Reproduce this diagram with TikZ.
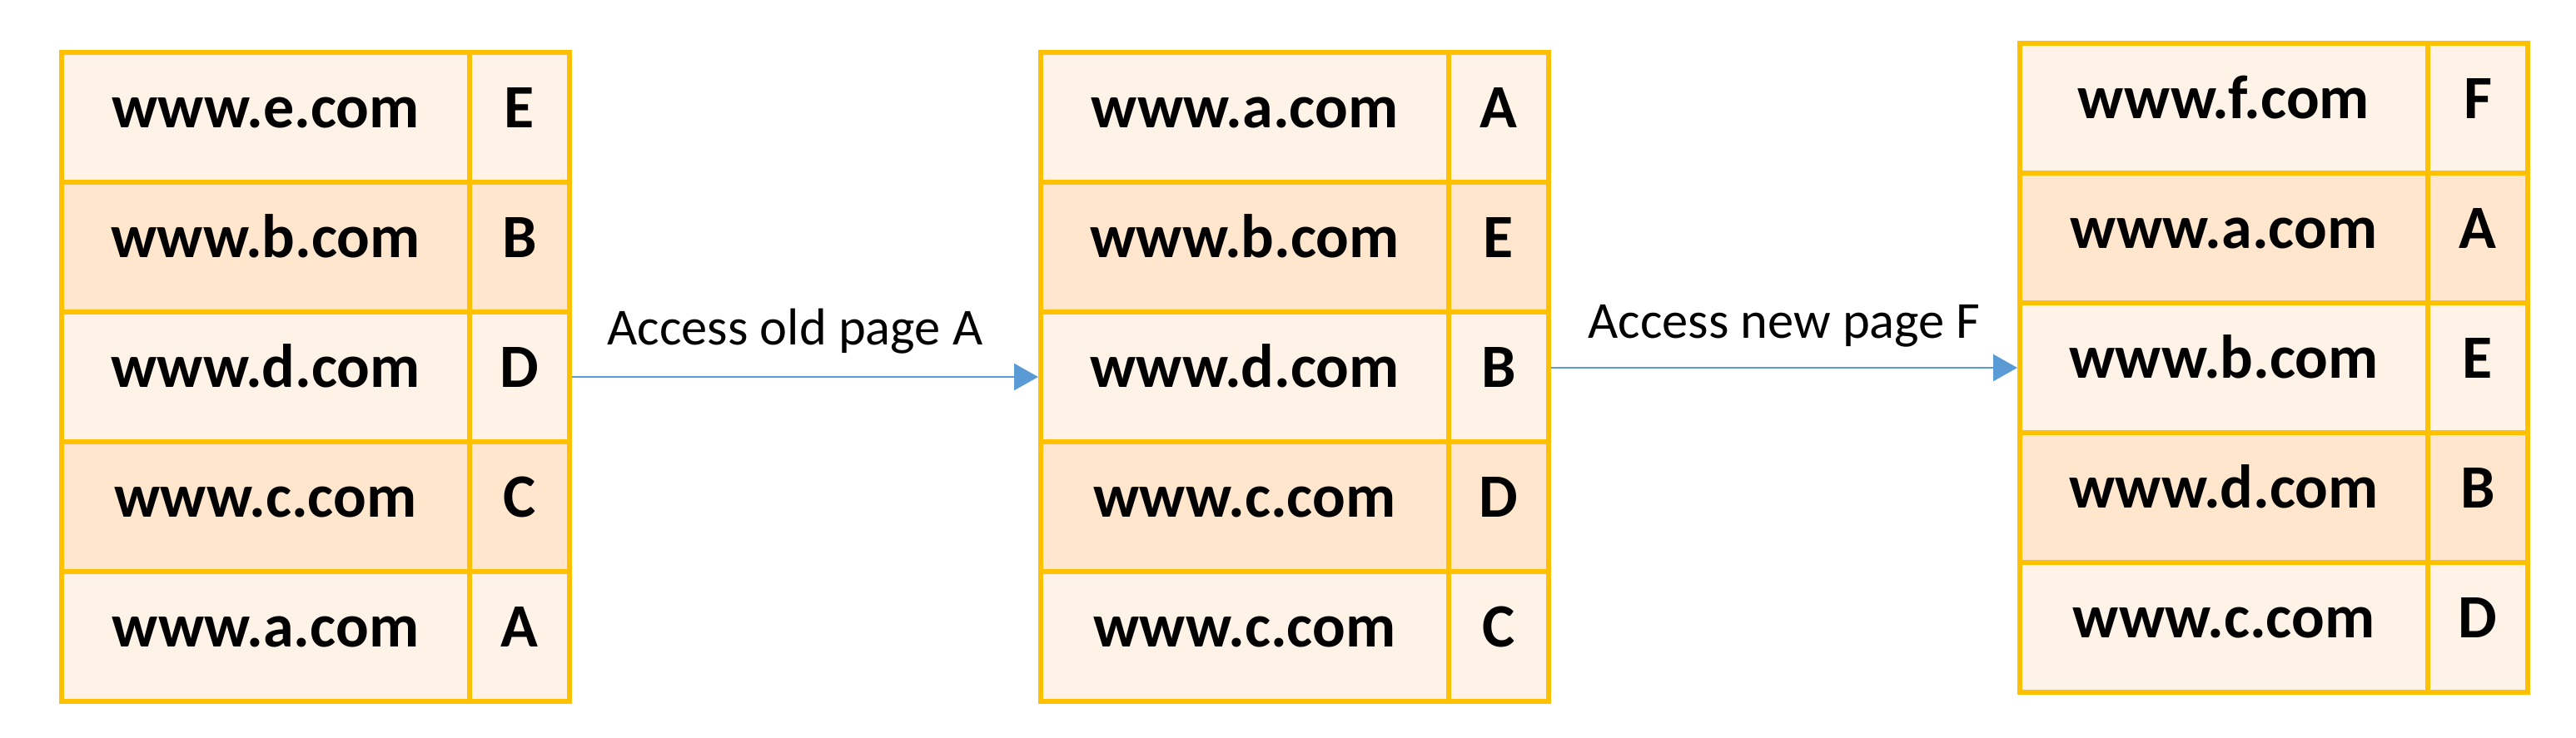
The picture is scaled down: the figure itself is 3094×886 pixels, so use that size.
\documentclass[tikz,border=0pt]{standalone}
\usepackage{fontspec}
\setmainfont{Carlito}
\usetikzlibrary{arrows.meta}
\definecolor{gold}{HTML}{FFC000}
\definecolor{lightfill}{HTML}{FFF2E6}
\definecolor{darkfill}{HTML}{FFE6CC}
\definecolor{arrowblue}{HTML}{5B9BD5}
\tikzset{
  cell/.style={draw=gold, line width=6pt, rectangle, inner sep=0pt,
    minimum height=156pt, text height=48pt, text depth=24pt,
    font=\fontsize{74}{88}\selectfont\bfseries},
  urlcell/.style={cell, minimum width=490pt},
  keycell/.style={cell, minimum width=120pt},
  conn/.style={draw=arrowblue, line width=2.5pt, -{Triangle[length=29pt,width=32pt]}},
  lbl/.style={font=\fontsize{62.5}{75}\selectfont, anchor=base, inner sep=0pt}
}
\begin{document}
\begin{tikzpicture}[x=1pt,y=-1pt]
\useasboundingbox (0,0) rectangle (3094,886);
% table 1
\foreach \i/\u/\k/\f in {1/e/E/lightfill,2/b/B/darkfill,3/d/D/lightfill,4/c/C/darkfill,5/a/A/lightfill} {
  \pgfmathsetmacro\y{141+156*(\i-1)}
  \node[urlcell, fill=\f] (t1r\i a) at (319,\y) {www.\u.com};
  \node[keycell, fill=\f] (t1r\i b) at (624,\y) {\k};
}
% table 2
\foreach \i/\u/\k/\f in {1/a/A/lightfill,2/b/E/darkfill,3/d/B/lightfill,4/c/D/darkfill,5/c/C/lightfill} {
  \pgfmathsetmacro\y{141+156*(\i-1)}
  \node[urlcell, fill=\f] (t2r\i a) at (1495,\y) {www.\u.com};
  \node[keycell, fill=\f] (t2r\i b) at (1800,\y) {\k};
}
% table 3
\foreach \i/\u/\k/\f in {1/f/F/lightfill,2/a/A/darkfill,3/b/E/lightfill,4/d/B/darkfill,5/c/D/lightfill} {
  \pgfmathsetmacro\y{130+156*(\i-1)}
  \node[urlcell, fill=\f] (t3r\i a) at (2671,\y) {www.\u.com};
  \node[keycell, fill=\f] (t3r\i b) at (2976,\y) {\k};
}
\draw[conn] (t1r3b.east) -- (t2r3a.west);
\draw[conn] (t2r3b.east |- t3r3a.west) -- (t3r3a.west);
\node[lbl] (l1) at (955,414) {Access old page A};
\node[lbl] (l2) at (2143,406) {Access new page F};
\end{tikzpicture}
\end{document}
